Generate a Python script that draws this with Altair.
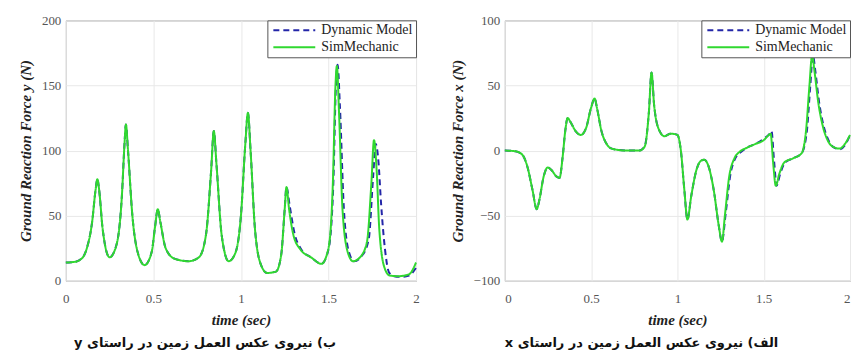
import altair as alt
import pandas as pd

# ---------------- data ----------------
series_names = ["Dynamic Model", "SimMechanic"]
x_ticks = [0, 0.5, 1, 1.5, 2]
fy_ticks = [0, 50, 100, 150, 200]
fx_ticks = [-100, -50, 0, 50, 100]

# Ground reaction force y (left panel)
t_fy_sim = [0, 0.05, 0.09, 0.12, 0.15, 0.17, 0.18, 0.19, 0.21, 0.25, 0.29, 0.32, 0.335, 0.343,
            0.355, 0.38, 0.41, 0.45, 0.49, 0.51, 0.525, 0.54, 0.57, 0.62, 0.7, 0.76, 0.8, 0.83,
            0.845, 0.86, 0.89, 0.93, 0.97, 1.0, 1.025, 1.04, 1.055, 1.08, 1.115, 1.15, 1.2, 1.23,
            1.25, 1.26, 1.275, 1.3, 1.34, 1.4, 1.46, 1.5, 1.525, 1.54, 1.548, 1.56, 1.58, 1.61,
            1.64, 1.68, 1.72, 1.745, 1.76, 1.775, 1.79, 1.82, 1.85, 1.9, 1.96, 2.0]
fy_sim = [14, 14.5, 17, 25, 45, 70, 78, 70, 40, 18, 28, 65, 105, 120,
          100, 50, 22, 12, 22, 42, 55, 45, 25, 17, 15, 18, 35, 85,
          115, 90, 35, 15, 22, 50, 105, 129, 100, 40, 12, 6, 7, 20,
          55, 72, 55, 35, 24, 18, 13, 25, 75, 150, 165, 130, 55, 22,
          15, 18, 30, 75, 108, 85, 40, 10, 4, 3.5, 5, 14]
t_fy_dyn = [0, 0.05, 0.09, 0.12, 0.15, 0.17, 0.18, 0.19, 0.21, 0.25, 0.29, 0.32, 0.335, 0.343,
            0.355, 0.38, 0.41, 0.45, 0.49, 0.51, 0.525, 0.54, 0.57, 0.62, 0.7, 0.76, 0.8, 0.83,
            0.845, 0.86, 0.89, 0.93, 0.97, 1.0, 1.025, 1.04, 1.055, 1.08, 1.115, 1.15, 1.2, 1.23,
            1.25, 1.26, 1.278, 1.305, 1.345, 1.4, 1.46, 1.5, 1.527, 1.542, 1.552, 1.565, 1.588, 1.617,
            1.647, 1.69, 1.73, 1.755, 1.77, 1.785, 1.8, 1.822, 1.847, 1.875, 1.92, 1.96, 2.0]
fy_dyn = [14, 14.5, 17, 25, 45, 70, 78, 70, 40, 18, 28, 65, 105, 120,
          100, 50, 22, 12, 22, 42, 55, 45, 25, 17, 15, 18, 35, 85,
          115, 90, 35, 15, 22, 50, 105, 129, 100, 40, 12, 6, 7, 20,
          55, 72, 58, 37, 24, 18, 13, 24, 72, 148, 166, 135, 55, 22,
          15, 19, 32, 80, 105, 92, 60, 25, 6, 3.5, 3, 4, 10]

# Ground reaction force x (right panel)
t_fx_sim = [0, 0.06, 0.1, 0.13, 0.16, 0.185, 0.2, 0.225, 0.248, 0.27, 0.3, 0.317, 0.335, 0.35,
            0.364, 0.38, 0.41, 0.44, 0.47, 0.5, 0.52, 0.535, 0.56, 0.59, 0.62, 0.7, 0.78, 0.81,
            0.835, 0.85, 0.865, 0.89, 0.925, 0.96, 1.0, 1.02, 1.04, 1.058, 1.08, 1.11, 1.135, 1.155,
            1.18, 1.21, 1.24, 1.258, 1.275, 1.3, 1.33, 1.36, 1.4, 1.45, 1.5, 1.53, 1.54, 1.555,
            1.57, 1.59, 1.62, 1.67, 1.72, 1.745, 1.765, 1.78, 1.795, 1.815, 1.84, 1.87, 1.9, 1.94,
            1.97, 2.0]
fx_sim = [0, -0.5, -3, -12, -30, -45, -38, -20, -13, -15, -20, -21, -5, 15,
          25, 22, 15, 12, 17, 33, 40, 32, 15, 5, 1.5, 0, 0, 3,
          30, 60, 35, 17, 11, 13, 12, 0, -30, -53, -35, -15, -8, -7,
          -12, -30, -58, -70, -50, -20, -6, -1, 2, 5, 8, 12, 13, -10,
          -27, -18, -9, -6, -2, 15, 50, 73, 60, 38, 20, 8, 3, 1.5,
          5, 12]
t_fx_dyn = [0, 0.06, 0.1, 0.13, 0.16, 0.185, 0.2, 0.225, 0.248, 0.27, 0.3, 0.317, 0.335, 0.35,
            0.364, 0.38, 0.41, 0.44, 0.47, 0.5, 0.52, 0.535, 0.56, 0.59, 0.62, 0.7, 0.78, 0.81,
            0.835, 0.85, 0.865, 0.89, 0.925, 0.96, 1.0, 1.02, 1.04, 1.058, 1.08, 1.11, 1.135, 1.155,
            1.18, 1.21, 1.24, 1.258, 1.28, 1.305, 1.335, 1.37, 1.4, 1.45, 1.5, 1.535, 1.545, 1.56,
            1.575, 1.595, 1.625, 1.67, 1.72, 1.75, 1.77, 1.785, 1.8, 1.82, 1.845, 1.875, 1.9, 1.94,
            1.97, 2.0]
fx_dyn = [0, -0.5, -3, -12, -30, -45, -38, -20, -13, -15, -20, -21, -5, 15,
          25, 22, 15, 12, 17, 33, 40, 32, 15, 5, 1.5, 0, 0, 3,
          30, 60, 35, 17, 11, 13, 12, 0, -30, -53, -35, -15, -8, -7,
          -12, -30, -58, -70, -48, -20, -6, -1, 2, 5, 9, 13, 15, -8,
          -27, -18, -9, -6, -2, 15, 50, 73, 60, 38, 20, 8, 3, 1,
          4, 12]

# ---------------- style ----------------
BLUE = "#2326a8"
GREEN = "#30d830"
SERIF = "Liberation Serif"


def panel(t_sim, v_sim, t_dyn, v_dyn, ydomain, yticks, ytitle, caption, flush):
    df_dyn = pd.DataFrame({"t": t_dyn, "v": v_dyn, "s": series_names[0]})
    df_sim = pd.DataFrame({"t": t_sim, "v": v_sim, "s": series_names[1]})
    leg = alt.Legend(title=None, orient="top-right", offset=0, padding=3,
                     fillColor="white", strokeColor="#555",
                     labelFont=SERIF, labelFontSize=14, labelColor="#222",
                     symbolType="M-1,0H9.5", symbolSize=64, symbolStrokeWidth=2,
                     labelOffset=37, rowPadding=3)
    color = alt.Color("s:N", scale=alt.Scale(domain=series_names, range=[BLUE, GREEN]),
                      legend=leg)
    dash = alt.StrokeDash("s:N", scale=alt.Scale(domain=series_names, range=[[6, 4], [1, 0]]),
                          legend=leg)
    x = alt.X("t:Q", scale=alt.Scale(domain=[0, 2], nice=False),
              axis=alt.Axis(values=x_ticks, format="~f", title="time (sec)",
                            labelFlush=flush))
    y = alt.Y("v:Q", scale=alt.Scale(domain=ydomain, nice=False),
              axis=alt.Axis(values=yticks, format="~f", title=ytitle))
    base_dyn = alt.Chart(df_dyn).mark_line(strokeWidth=2, interpolate="monotone").encode(
        x=x, y=y, color=color, strokeDash=dash, order="t:Q")
    base_sim = alt.Chart(df_sim).mark_line(strokeWidth=2, interpolate="monotone").encode(
        x=x, y=y, color=color, strokeDash=dash, order="t:Q")
    return alt.layer(base_dyn, base_sim).properties(
        width=351 if not flush else 346, height=261,
        title=alt.TitleParams(text="\u202b" + caption + "\u202c", orient="bottom",
                              font="DejaVu Sans", fontSize=13, fontWeight="bold",
                              color="#111", offset=9, dx=-36, anchor="middle"))


left = panel(t_fy_sim, fy_sim, t_fy_dyn, fy_dyn, [0, 200], fy_ticks,
             "Ground Reaction  Force y (N)", "ب) نیروی عکس العمل زمین در راستای y", False)
right = panel(t_fx_sim, fx_sim, t_fx_dyn, fx_dyn, [-100, 100], fx_ticks,
              "Ground Reaction  Force x (N)", "الف) نیروی عکس العمل زمین در راستای x", True)

chart = alt.hconcat(left, right, spacing=28).resolve_scale(
    color="independent", strokeDash="independent"
).properties(
    padding={"left": 18, "top": 13, "right": 0, "bottom": 0},
    background="white",
).configure_view(
    stroke="#888", strokeWidth=1
).configure_axis(
    grid=True, gridColor="#e8e8e8", gridWidth=1, domain=False, ticks=False,
    labelFont=SERIF, labelFontSize=13, labelColor="#555",
    titleFont=SERIF, titleFontSize=15, titleFontWeight="bold", titleFontStyle="italic",
    titleColor="#222",
).configure_axisX(
    labelPadding=12, titlePadding=7,
).configure_axisY(
    labelPadding=5, titlePadding=8,
)

chart.save("out.html", embed_options={"renderer": "svg", "actions": False})
